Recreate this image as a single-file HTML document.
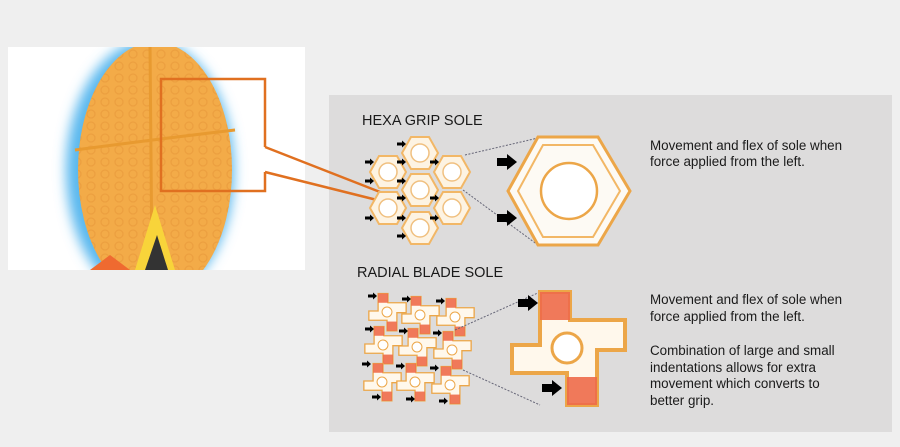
<!DOCTYPE html>
<html><head><meta charset="utf-8"><style>
html,body{margin:0;padding:0;background:#efefef;}
svg{display:block}
text{font-family:"Liberation Sans",Arial,sans-serif;fill:#1a1a1a}
</style></head><body>
<svg width="900" height="447" viewBox="0 0 900 447" xmlns="http://www.w3.org/2000/svg">
<defs>
<filter id="blur" x="-30%" y="-30%" width="160%" height="160%"><feGaussianBlur stdDeviation="6"/></filter>
<clipPath id="imgclip"><rect x="8" y="47" width="297" height="223"/></clipPath>
<pattern id="hp" width="14" height="12" patternUnits="userSpaceOnUse"><circle cx="7" cy="6" r="4" fill="none" stroke="#e8983a" stroke-width="1.3"/></pattern>
<g id="hx"><polygon points="-18,0 -9,-16 9,-16 18,0 9,16 -9,16" fill="#fdf3e2" stroke="#f2b766" stroke-width="2"/><circle r="9" fill="#fff" stroke="#f0c080" stroke-width="1.5"/></g>
<g id="cr">
<polygon points="-27,-56 3,-56 3,-28 58,-28 58,2 30,2 30,57 0,57 0,25 -55,25 -55,-3 -27,-3" fill="#fff8ec" stroke="#eca648" stroke-width="4"/>
<rect x="-27" y="-56" width="30" height="28" fill="#ee6a4a" opacity="0.9"/>
<rect x="0" y="29" width="30" height="28" fill="#ee6a4a" opacity="0.9"/>
<circle r="15" fill="#fff" stroke="#eca648" stroke-width="3"/>
</g>
<g id="ar"><rect x="-4" y="-1.5" width="5" height="3" fill="#000"/><polygon points="1,-3.5 5,0 1,3.5" fill="#000"/></g>
</defs>
<rect width="900" height="447" fill="#efefef"/>
<!-- image -->
<rect x="8" y="47" width="297" height="223" fill="#fff"/>
<g clip-path="url(#imgclip)">
<ellipse cx="150" cy="170" rx="84" ry="130" fill="#5ab8ee" filter="url(#blur)"/>
<ellipse cx="155" cy="170" rx="77" ry="128" fill="#f3ab48"/>
<ellipse cx="155" cy="170" rx="77" ry="128" fill="url(#hp)" opacity="0.6"/>
<path d="M150 45 L152 270" stroke="#e89a30" stroke-width="3"/>
<path d="M75 150 Q150 140 235 130" stroke="#e89a30" stroke-width="3" fill="none"/>
<polygon points="135,270 155,205 175,270" fill="#f8d43a"/>
<polygon points="145,270 157,235 168,270" fill="#333"/>
<polygon points="90,270 110,255 130,270" fill="#ef6a30"/>
</g>
<!-- panel -->
<rect x="329" y="95" width="563" height="337" fill="#dddcdc"/>
<rect x="161" y="79" width="104" height="112" fill="none" stroke="#e07020" stroke-width="2.5"/>
<rect x="263" y="147" width="5" height="25" fill="#fff"/>
<path d="M265 147 L380 192 M265 172 L377 200" stroke="#e07020" stroke-width="2.5" fill="none"/>
<text x="362" y="125" font-size="14.5">HEXA GRIP SOLE</text>
<text x="357" y="277" font-size="14.5">RADIAL BLADE SOLE</text>
<use href="#hx" x="420" y="153"/><use href="#hx" x="388" y="172"/><use href="#hx" x="452" y="172"/>
<use href="#hx" x="420" y="190"/><use href="#hx" x="388" y="208"/><use href="#hx" x="452" y="208"/><use href="#hx" x="420" y="228"/>
<use href="#ar" x="401" y="144"/><use href="#ar" x="369" y="162"/><use href="#ar" x="401" y="162"/><use href="#ar" x="434" y="162"/>
<use href="#ar" x="369" y="181"/><use href="#ar" x="401" y="181"/><use href="#ar" x="434" y="198"/><use href="#ar" x="401" y="198"/>
<use href="#ar" x="369" y="218"/><use href="#ar" x="401" y="218"/><use href="#ar" x="434" y="218"/><use href="#ar" x="401" y="236"/>
<path d="M465 155 L538 138 M463 190 L538 245" stroke="#667" stroke-width="1" stroke-dasharray="2,1.5"/>
<g transform="translate(507,162)"><rect x="-10" y="-4" width="10" height="8"/><polygon points="0,-8 10,0 0,8"/></g>
<g transform="translate(507,218)"><rect x="-10" y="-4" width="10" height="8"/><polygon points="0,-8 10,0 0,8"/></g>
<polygon points="508,191 538,137 598,137 630,191 598,245 538,245" fill="#fdfaf4" stroke="#eca648" stroke-width="3"/>
<polygon points="518,191 543,145 593,145 620,191 593,237 543,237" fill="none" stroke="#f2b766" stroke-width="2"/>
<circle cx="569" cy="191" r="28" fill="#fff" stroke="#eca648" stroke-width="2.5"/>
<!-- radial small -->
<g transform="translate(387,312) scale(0.33)"><use href="#cr"/></g>
<g transform="translate(420,315) scale(0.33)"><use href="#cr"/></g>
<g transform="translate(455,317) scale(0.33)"><use href="#cr"/></g>
<g transform="translate(383,345) scale(0.33)"><use href="#cr"/></g>
<g transform="translate(417,347) scale(0.33)"><use href="#cr"/></g>
<g transform="translate(452,350) scale(0.33)"><use href="#cr"/></g>
<g transform="translate(382,382) scale(0.33)"><use href="#cr"/></g>
<g transform="translate(415,382) scale(0.33)"><use href="#cr"/></g>
<g transform="translate(450,385) scale(0.33)"><use href="#cr"/></g>
<use href="#ar" x="372" y="296"/><use href="#ar" x="406" y="299"/><use href="#ar" x="440" y="301"/>
<use href="#ar" x="369" y="329"/><use href="#ar" x="403" y="331"/><use href="#ar" x="437" y="333"/>
<use href="#ar" x="366" y="364"/><use href="#ar" x="400" y="366"/><use href="#ar" x="434" y="368"/>
<use href="#ar" x="376" y="397"/><use href="#ar" x="410" y="399"/><use href="#ar" x="443" y="401"/>
<path d="M455 330 L540 292 M463 370 L540 405" stroke="#667" stroke-width="1" stroke-dasharray="2,1.5"/>
<g transform="translate(528,303)"><rect x="-10" y="-4" width="10" height="8"/><polygon points="0,-8 10,0 0,8"/></g>
<g transform="translate(552,388)"><rect x="-10" y="-4" width="10" height="8"/><polygon points="0,-8 10,0 0,8"/></g>
<g transform="translate(567,348)"><use href="#cr"/></g>
<g font-size="13.4">
<text x="650" y="150">Movement and flex of sole when</text>
<text x="650" y="166">force applied from the left.</text>
<text x="650" y="304">Movement and flex of sole when</text>
<text x="650" y="321">force applied from the left.</text>
<text x="650" y="355">Combination of large and small</text>
<text x="650" y="372">indentations allows for extra</text>
<text x="650" y="388">movement which converts to</text>
<text x="650" y="405">better grip.</text>
</g>
</svg>
</body></html>
